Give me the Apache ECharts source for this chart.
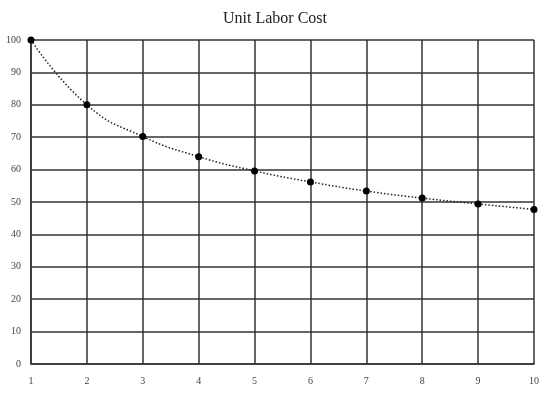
<!DOCTYPE html>
<html>
<head>
<meta charset="utf-8">
<script src="https://cdn.jsdelivr.net/npm/echarts@6/dist/echarts.min.js"></script>
<style>
  html, body { margin: 0; padding: 0; background: #fff; }
  #chart { width: 550px; height: 396px; }
</style>
</head>
<body>
<div id="chart"></div>
<script>
const units = [1, 2, 3, 4, 5, 6, 7, 8, 9, 10];
const unitCost = [100, 80, 70.2, 64, 59.6, 56.2, 53.4, 51.2, 49.4, 47.7];

const myChart = echarts.init(document.getElementById("chart"));
const labelFont = { fontFamily: "Liberation Serif", fontSize: 10, color: "#444" };
const gridLine = { color: "#333", width: 1.5 };

const option = {
  backgroundColor: "#fff",
  animation: false,
  title: {
    text: "Unit Labor Cost",
    left: "center",
    top: 6,
    textStyle: { fontFamily: "Liberation Serif", fontSize: 16, fontWeight: "normal", color: "#222" },
  },
  grid: { left: 31, right: 16, top: 40, bottom: 32 },
  xAxis: {
    type: "value",
    min: 1,
    max: 10,
    interval: 1,
    axisLine: { show: true, lineStyle: gridLine },
    axisTick: { show: false },
    axisLabel: Object.assign({ margin: 12 }, labelFont),
    splitLine: { show: true, lineStyle: gridLine },
  },
  yAxis: {
    type: "value",
    min: 0,
    max: 100,
    interval: 10,
    axisLine: { show: true, lineStyle: gridLine },
    axisTick: { show: false },
    axisLabel: Object.assign({ margin: 10 }, labelFont),
    splitLine: { show: true, lineStyle: gridLine },
  },
  series: [
    {
      type: "line",
      data: units.map((u, i) => [u, unitCost[i]]),
      smooth: true,
      symbol: "circle",
      symbolSize: 7,
      itemStyle: { color: "#000" },
      lineStyle: { color: "#222", width: 1.5, type: [1.5, 2] },
      z: 5,
    },
  ],
};
myChart.setOption(option);
</script>
</body>
</html>
